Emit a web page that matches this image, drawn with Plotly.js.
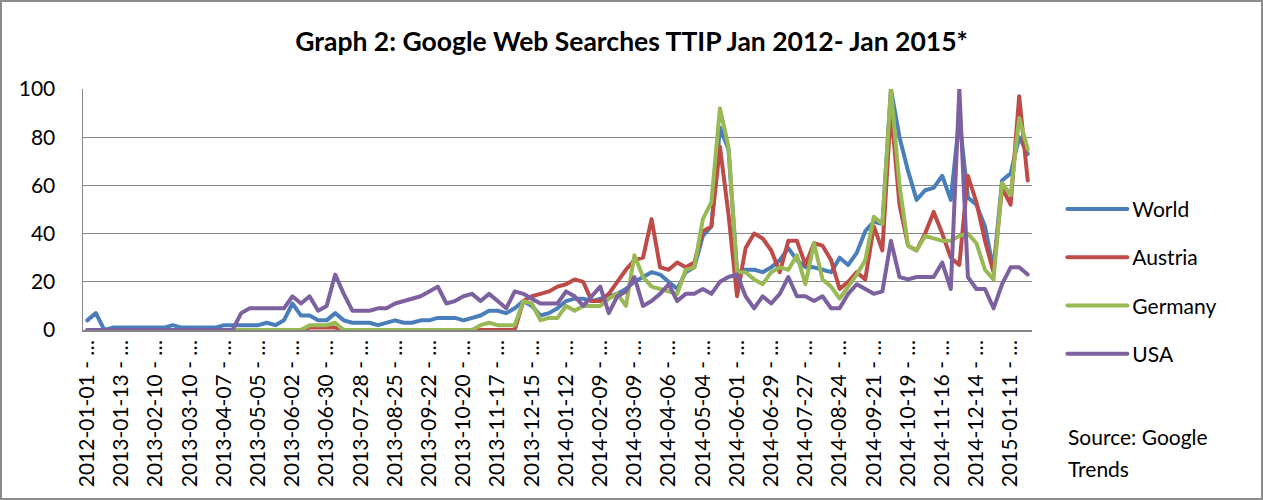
<!DOCTYPE html>
<html>
<head>
<meta charset="utf-8">
<script src="https://cdn.plot.ly/plotly-3.0.1.min.js"></script>
<style>
  html, body { margin: 0; padding: 0; background: #fff; }
  #wrap { position: relative; width: 1263px; height: 500px; }
  #chart { width: 1263px; height: 500px; }
  #frame { position: absolute; left: 0; top: 0; width: 1263px; height: 500px; box-sizing: border-box; border: 2px solid #8c8c8c; pointer-events: none; }
  .js-line { stroke-linejoin: round !important; stroke-linecap: round !important; }
</style>
</head>
<body>
<div id="wrap"><div id="chart"></div><div id="frame"></div></div>
<script>
// Weekly categories (Google Trends weeks)
const categories = [
  "2012-01-01","2012-12-23","2012-12-30",
  "2013-01-06","2013-01-13","2013-01-20","2013-01-27","2013-02-03","2013-02-10","2013-02-17","2013-02-24",
  "2013-03-03","2013-03-10","2013-03-17","2013-03-24","2013-03-31","2013-04-07","2013-04-14","2013-04-21",
  "2013-04-28","2013-05-05","2013-05-12","2013-05-19","2013-05-26","2013-06-02","2013-06-09","2013-06-16",
  "2013-06-23","2013-06-30","2013-07-07","2013-07-14","2013-07-21","2013-07-28","2013-08-04","2013-08-11",
  "2013-08-18","2013-08-25","2013-09-01","2013-09-08","2013-09-15","2013-09-22","2013-09-29","2013-10-06",
  "2013-10-13","2013-10-20","2013-10-27","2013-11-03","2013-11-10","2013-11-17","2013-11-24","2013-12-01",
  "2013-12-08","2013-12-15","2013-12-22","2013-12-29",
  "2014-01-05","2014-01-12","2014-01-19","2014-01-26","2014-02-02","2014-02-09","2014-02-16","2014-02-23",
  "2014-03-02","2014-03-09","2014-03-16","2014-03-23","2014-03-30","2014-04-06","2014-04-13","2014-04-20",
  "2014-04-27","2014-05-04","2014-05-11","2014-05-18","2014-05-25","2014-06-01","2014-06-08","2014-06-15",
  "2014-06-22","2014-06-29","2014-07-06","2014-07-13","2014-07-20","2014-07-27","2014-08-03","2014-08-10",
  "2014-08-17","2014-08-24","2014-08-31","2014-09-07","2014-09-14","2014-09-21","2014-09-28","2014-10-05",
  "2014-10-12","2014-10-19","2014-10-26","2014-11-02","2014-11-09","2014-11-16","2014-11-23","2014-11-30",
  "2014-12-07","2014-12-14","2014-12-21","2014-12-28",
  "2015-01-04","2015-01-11","2015-01-18","2015-01-25"
];

// Categories that carry a visible axis label
const tickDates = [
  "2012-01-01","2013-01-13","2013-02-10","2013-03-10","2013-04-07","2013-05-05","2013-06-02",
  "2013-06-30","2013-07-28","2013-08-25","2013-09-22","2013-10-20","2013-11-17","2013-12-15",
  "2014-01-12","2014-02-09","2014-03-09","2014-04-06","2014-05-04","2014-06-01","2014-06-29",
  "2014-07-27","2014-08-24","2014-09-21","2014-10-19","2014-11-16","2014-12-14","2015-01-11"
];
const tickLabels = tickDates.map(d => d + " - \u2026");

const world = [
  4,7,0,1,1,1,1,1,1,1, 2,1,1,1,1,1,2,2,2,2, 2,3,2,4,11,6,6,4,4,7,
  4,3,3,3,2,3,4,3,3,4, 4,5,5,5,4,5,6,8,8,7, 9,12,10,6,7,9,12,13,13,12,
  13,14,15,17,20,22,24,23,20,17, 24,26,39,43,84,75,24,25,25,24,
  26,29,34,29,26,26,25,24,30,27, 32,41,45,44,100,80,66,54,58,59,
  64,54,88,55,52,43,25,62,65,80, 73
];
const austria = [
  0,0,0,0,0,0,0,0,0,0, 0,0,0,0,0,0,0,0,0,0, 0,0,0,0,0,0,1,1,1,1,
  0,0,0,0,0,0,0,0,0,0, 0,0,0,0,0,0,0,0,0,0, 0,12,14,15,16,18,19,21,20,12,
  12,15,20,25,29,30,46,26,25,28, 26,28,41,43,76,48,14,34,40,38,
  33,24,37,37,27,36,35,29,17,20, 24,21,43,33,92,52,35,33,40,49,
  40,30,27,64,53,37,24,59,52,97, 62
];
const germany = [
  0,0,0,0,0,0,0,0,0,0, 0,0,0,0,0,0,0,0,0,0, 0,0,0,0,0,0,2,2,2,3,
  0,0,0,0,0,0,0,0,0,0, 0,0,0,0,0,0,2,3,2,2, 2,12,11,4,5,5,10,8,10,10,
  10,13,15,10,31,22,18,17,16,15, 25,26,46,53,92,76,24,24,21,19,
  24,26,25,31,19,36,21,18,13,18, 23,29,47,44,100,60,35,33,39,38,
  37,37,39,40,36,25,21,61,56,88, 75
];
const usa = [
  0,0,0,0,0,0,0,0,0,0, 0,0,0,0,0,0,0,0,7,9, 9,9,9,9,14,11,14,8,10,23,
  15,8,8,8,9,9,11,12,13,14, 16,18,11,12,14,15,12,15,12,9, 16,15,13,11,11,11,16,14,10,14,
  18,7,14,16,22,10,12,15,19,12, 15,15,17,15,20,22,23,14,9,14,
  11,15,22,14,14,12,14,9,9,15, 19,17,15,16,37,22,21,22,22,22,
  28,17,100,22,17,17,9,19,26,26, 23
];

const seriesNames = ["World", "Austria", "Germany", "USA"];
const seriesData = [world, austria, germany, usa];
const seriesColors = ["#4A7EBB", "#BE4B48", "#98B954", "#7D60A0"];

const FONT = "Lato, 'Open Sans', sans-serif";

const traces = seriesData.map((vals, k) => ({
  type: "scatter",
  mode: "lines",
  name: seriesNames[k],
  legendgroup: seriesNames[k],
  x: categories,
  y: vals,
  line: { color: seriesColors[k], width: 4 },
  hoverinfo: "x+y+name"
}));

const layout = {
  width: 1263,
  height: 500,
  margin: { l: 83, r: 231, t: 89, b: 170, pad: 0 },
  paper_bgcolor: "#ffffff",
  plot_bgcolor: "#ffffff",
  font: { family: FONT, size: 20, color: "#000000" },
  title: {
    text: "<b>Graph 2: Google Web Searches TTIP Jan 2012- Jan 2015*</b>",
    font: { family: FONT, size: 26.5, color: "#000000" },
    x: 0.5, xref: "container", xanchor: "center",
    y: 1 - 42 / 500, yref: "container", yanchor: "middle"
  },
  xaxis: {
    type: "category",
    categoryorder: "array",
    categoryarray: categories,
    range: [-0.5, categories.length - 0.5],
    tickmode: "array",
    tickvals: tickDates,
    ticktext: tickLabels,
    tickangle: -90,
    tickfont: { family: FONT, size: 21, color: "#000000" },
    showgrid: false,
    showline: true,
    linecolor: "#868686",
    linewidth: 1.5,
    ticks: "",
    zeroline: false,
    fixedrange: true
  },
  yaxis: {
    range: [0, 100],
    tickmode: "linear",
    tick0: 0,
    dtick: 20,
    tickfont: { family: FONT, size: 21, color: "#000000" },
    showgrid: true,
    gridcolor: "#868686",
    gridwidth: 1.3,
    showline: true,
    linecolor: "#868686",
    linewidth: 1.5,
    ticks: "",
    ticklabelstandoff: 22,
    zeroline: false,
    fixedrange: true
  },
  showlegend: true,
  legend: {
    x: 1.032, xanchor: "left",
    y: 0.2, yanchor: "middle",
    font: { family: FONT, size: 21, color: "#000000" },
    tracegroupgap: 18,
    itemwidth: 60,
    bgcolor: "rgba(0,0,0,0)",
    borderwidth: 0
  },
  annotations: [
    {
      text: "Source: Google",
      xref: "paper", yref: "paper",
      x: (1066 - 83) / 949, y: (330.5 - 437) / 241,
      xanchor: "left", yanchor: "middle",
      showarrow: false,
      font: { family: FONT, size: 21, color: "#000000" }
    },
    {
      text: "Trends",
      xref: "paper", yref: "paper",
      x: (1066 - 83) / 949, y: (330.5 - 469) / 241,
      xanchor: "left", yanchor: "middle",
      showarrow: false,
      font: { family: FONT, size: 21, color: "#000000" }
    }
  ]
};

Plotly.newPlot("chart", traces, layout, { staticPlot: true, displayModeBar: false });
</script>
</body>
</html>
